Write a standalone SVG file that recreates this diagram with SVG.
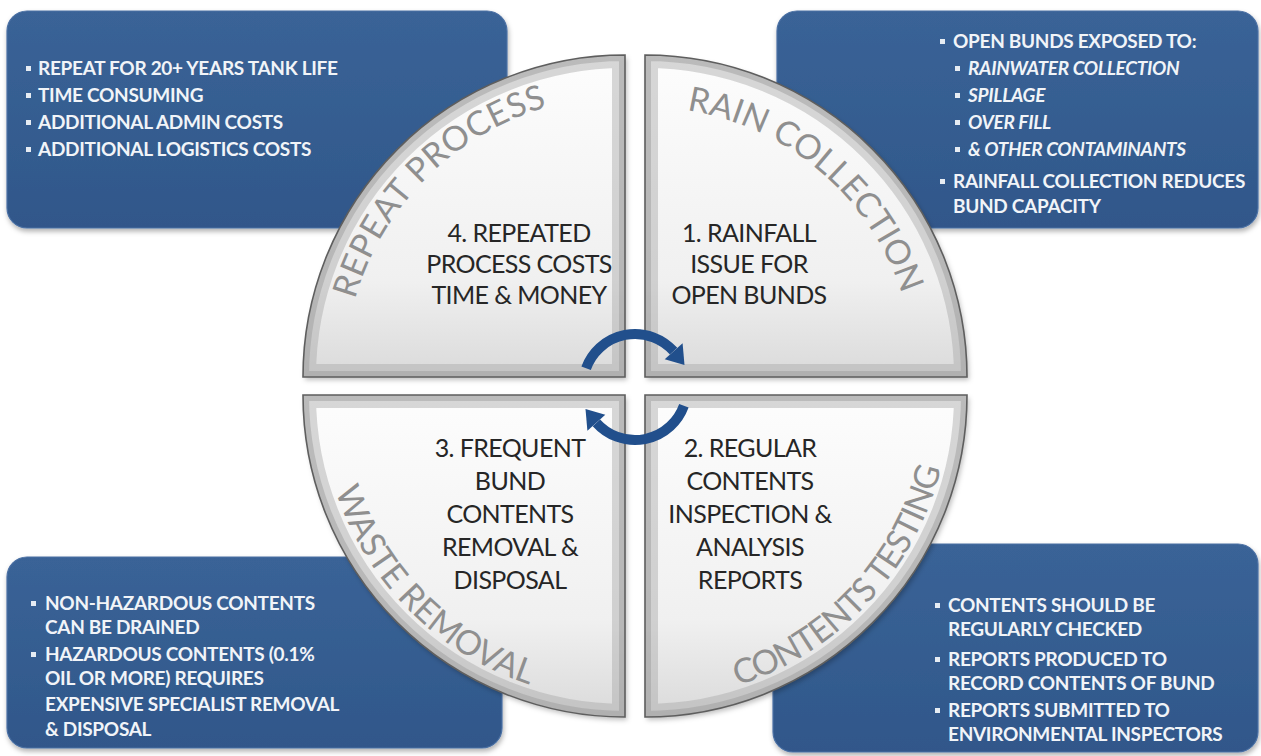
<svg xmlns="http://www.w3.org/2000/svg" width="1261" height="756" viewBox="0 0 1261 756">
<style>
.box{fill:url(#gBox);stroke:#4b70a4;stroke-width:1.2;filter:url(#sh)}
.bt{font-family:Lato,"Liberation Sans",sans-serif;font-size:19px;font-weight:700;fill:#f1f4f8;letter-spacing:-0.3px}
.it{font-style:italic}
.bul{fill:#e6ecf3}
.q{fill:url(#gQ);stroke:none}
.bev1{fill:none;stroke:#a9a9a9;stroke-opacity:0.45;stroke-width:26}
.bev2{fill:none;stroke:#9a9a9a;stroke-opacity:0.45;stroke-width:12}
.edge{fill:none;stroke:#5e5e5e;stroke-width:1.6}
.ct{font-family:Lato,"Liberation Sans",sans-serif;font-size:25px;fill:#262626;text-anchor:middle;letter-spacing:-0.6px}
.arc{font-family:Lato,"Liberation Sans",sans-serif;font-size:34px;fill:#8f8f8f}
.arr{fill:none;stroke:#214f8c;stroke-width:10}
.head{fill:#214f8c}
</style>
<defs>
<linearGradient id="gBox" x1="0" y1="0" x2="0" y2="1">
<stop offset="0" stop-color="#3a6397"/>
<stop offset="1" stop-color="#30578a"/>
</linearGradient>
<linearGradient id="gQ" x1="0" y1="0" x2="0" y2="1">
<stop offset="0" stop-color="#fdfdfd"/>
<stop offset="0.7" stop-color="#f0f0f0"/>
<stop offset="1" stop-color="#dadada"/>
</linearGradient>
<filter id="sh" x="-5%" y="-5%" width="110%" height="115%">
<feDropShadow dx="1" dy="3" stdDeviation="2.5" flood-color="#000" flood-opacity="0.3"/>
</filter>
<filter id="qsh" x="-5%" y="-5%" width="110%" height="110%">
<feDropShadow dx="2" dy="3" stdDeviation="2.5" flood-color="#000" flood-opacity="0.25"/>
</filter>
<path id="pTL" d="M625,377 L625,55 A322,322 0 0 0 303,377 Z"/>
<path id="pTR" d="M645,377 L645,55 A322,322 0 0 1 967,377 Z"/>
<path id="pBL" d="M625,395 L303,395 A322,322 0 0 0 625,717 Z"/>
<path id="pBR" d="M645,395 L967,395 A322,322 0 0 1 645,717 Z"/>
<clipPath id="cTL"><use href="#pTL"/></clipPath>
<clipPath id="cTR"><use href="#pTR"/></clipPath>
<clipPath id="cBL"><use href="#pBL"/></clipPath>
<clipPath id="cBR"><use href="#pBR"/></clipPath>
<path id="tTL" d="M344,377 A281,281 0 0 1 625,96"/>
<path id="tTR" d="M645,107 A270,270 0 0 1 915,377"/>
<path id="tBL" d="M320,395 A305,305 0 0 0 625,700"/>
<path id="tBR" d="M645,700 A305,305 0 0 0 950,395"/>
</defs>
<rect width="1261" height="756" fill="#ffffff"/>

<g id="box-repeat">
<rect class="box" x="7" y="11" width="500" height="217" rx="20"/>
<rect class="bul" x="26" y="66" width="5" height="5"/>
<text class="bt" x="38" y="75">REPEAT FOR 20+ YEARS TANK LIFE</text>
<rect class="bul" x="26" y="93" width="5" height="5"/>
<text class="bt" x="38" y="102">TIME CONSUMING</text>
<rect class="bul" x="26" y="120" width="5" height="5"/>
<text class="bt" x="38" y="129">ADDITIONAL ADMIN COSTS</text>
<rect class="bul" x="26" y="147" width="5" height="5"/>
<text class="bt" x="38" y="156">ADDITIONAL LOGISTICS COSTS</text>
</g>

<g id="box-rain">
<rect class="box" x="777" y="11" width="481" height="217" rx="20"/>
<rect class="bul" x="940" y="39" width="5" height="5"/>
<text class="bt" x="953" y="48">OPEN BUNDS EXPOSED TO:</text>
<rect class="bul" x="955" y="66" width="5" height="5"/>
<text class="bt it" x="968" y="75">RAINWATER COLLECTION</text>
<rect class="bul" x="955" y="93" width="5" height="5"/>
<text class="bt it" x="968" y="102">SPILLAGE</text>
<rect class="bul" x="955" y="120" width="5" height="5"/>
<text class="bt it" x="968" y="129">OVER FILL</text>
<rect class="bul" x="955" y="147" width="5" height="5"/>
<text class="bt it" x="968" y="156">&amp; OTHER CONTAMINANTS</text>
<rect class="bul" x="940" y="179" width="5" height="5"/>
<text class="bt" x="953" y="188">RAINFALL COLLECTION REDUCES</text>
<text class="bt" x="953" y="213">BUND CAPACITY</text>
</g>

<g id="box-waste">
<rect class="box" x="7" y="557" width="495" height="191" rx="20"/>
<rect class="bul" x="31" y="601" width="5" height="5"/>
<text class="bt" x="45" y="610">NON-HAZARDOUS CONTENTS</text>
<text class="bt" x="45" y="634">CAN BE DRAINED</text>
<rect class="bul" x="31" y="652" width="5" height="5"/>
<text class="bt" x="45" y="661">HAZARDOUS CONTENTS (0.1%</text>
<text class="bt" x="45" y="685">OIL OR MORE) REQUIRES</text>
<text class="bt" x="45" y="711">EXPENSIVE SPECIALIST REMOVAL</text>
<text class="bt" x="45" y="736">&amp; DISPOSAL</text>
</g>

<g id="box-testing">
<rect class="box" x="773" y="544" width="485" height="208" rx="20"/>
<rect class="bul" x="935" y="603" width="5" height="5"/>
<text class="bt" x="948" y="612">CONTENTS SHOULD BE</text>
<text class="bt" x="948" y="636">REGULARLY CHECKED</text>
<rect class="bul" x="935" y="657" width="5" height="5"/>
<text class="bt" x="948" y="666">REPORTS PRODUCED TO</text>
<text class="bt" x="948" y="690">RECORD CONTENTS OF BUND</text>
<rect class="bul" x="935" y="708" width="5" height="5"/>
<text class="bt" x="948" y="717">REPORTS SUBMITTED TO</text>
<text class="bt" x="948" y="741">ENVIRONMENTAL INSPECTORS</text>
</g>

<g id="quad-4">
<use href="#pTL" class="q" filter="url(#qsh)"/>
<g clip-path="url(#cTL)"><use href="#pTL" class="bev1"/><use href="#pTL" class="bev2"/></g>
<use href="#pTL" class="edge"/>
<text class="arc" letter-spacing="0.5"><textPath href="#tTL" startOffset="50%" text-anchor="middle">REPEAT PROCESS</textPath></text>
<text class="ct" x="519" y="242">4. REPEATED</text>
<text class="ct" x="519" y="273">PROCESS COSTS</text>
<text class="ct" x="519" y="304">TIME &amp; MONEY</text>
</g>

<g id="quad-1">
<use href="#pTR" class="q" filter="url(#qsh)"/>
<g clip-path="url(#cTR)"><use href="#pTR" class="bev1"/><use href="#pTR" class="bev2"/></g>
<use href="#pTR" class="edge"/>
<text class="arc"><textPath href="#tTR" startOffset="45%" text-anchor="middle">RAIN COLLECTION</textPath></text>
<text class="ct" x="749" y="242">1. RAINFALL</text>
<text class="ct" x="749" y="273">ISSUE FOR</text>
<text class="ct" x="749" y="304">OPEN BUNDS</text>
</g>

<g id="quad-3">
<use href="#pBL" class="q" filter="url(#qsh)"/>
<g clip-path="url(#cBL)"><use href="#pBL" class="bev1"/><use href="#pBL" class="bev2"/></g>
<use href="#pBL" class="edge"/>
<text class="arc" font-size="33"><textPath href="#tBL" startOffset="50%" text-anchor="middle">WASTE REMOVAL</textPath></text>
<text class="ct" x="510" y="457">3. FREQUENT</text>
<text class="ct" x="510" y="490">BUND</text>
<text class="ct" x="510" y="523">CONTENTS</text>
<text class="ct" x="510" y="556">REMOVAL &amp;</text>
<text class="ct" x="510" y="589">DISPOSAL</text>
</g>

<g id="quad-2">
<use href="#pBR" class="q" filter="url(#qsh)"/>
<g clip-path="url(#cBR)"><use href="#pBR" class="bev1"/><use href="#pBR" class="bev2"/></g>
<use href="#pBR" class="edge"/>
<text class="arc" font-size="32" letter-spacing="-1"><textPath href="#tBR" startOffset="52%" text-anchor="middle">CONTENTS TESTING</textPath></text>
<text class="ct" x="750" y="457">2. REGULAR</text>
<text class="ct" x="750" y="490">CONTENTS</text>
<text class="ct" x="750" y="523">INSPECTION &amp;</text>
<text class="ct" x="750" y="556">ANALYSIS</text>
<text class="ct" x="750" y="589">REPORTS</text>
</g>

<g id="connectors">
<path class="arr" d="M586.1,368.2 A52,52 0 0 1 673.6,351.2"/>
<polygon class="head" points="664.7,359.2 682.6,343.2 684.5,365"/>
<path class="arr" d="M683.9,405.8 A52,52 0 0 1 596.4,422.8"/>
<polygon class="head" points="605.3,414.8 587.4,430.8 585.5,409"/>
</g>
</svg>
